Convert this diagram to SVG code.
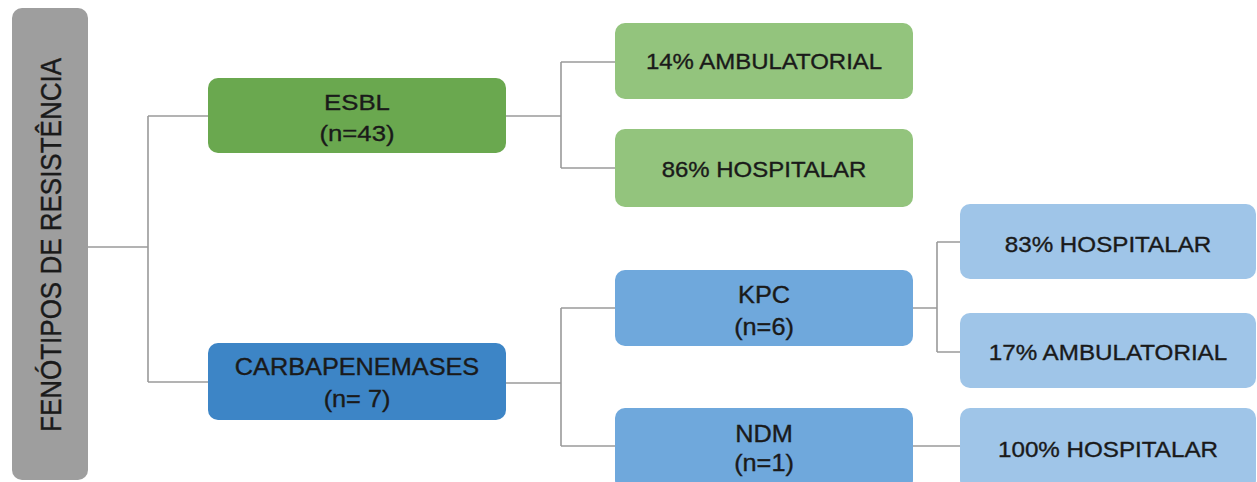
<svg xmlns="http://www.w3.org/2000/svg" width="1257" height="482" viewBox="0 0 1257 482">
<style>
.t{font-family:"Liberation Sans",Arial,sans-serif;fill:#1a1a1a;stroke:#1a1a1a;stroke-width:0.35;text-anchor:middle}
.s22{font-size:22px}
.s23{font-size:23px}
.c{fill:none;stroke:#9a9a9a;stroke-width:1.6}
.root{fill:#9e9e9e}
.g1{fill:#6aa84f}
.g2{fill:#93c47d}
.b1{fill:#3d85c6}
.b2{fill:#6fa8dc}
.b3{fill:#9fc5e8}
</style>
<rect width="1257" height="482" fill="#ffffff"/>
<g id="connectors">
<path class="c" d="M88 247H148M148 116V382M148 116H208M148 382H208"/>
<path class="c" d="M506 116H561M561 62V168M561 62H615M561 168H615"/>
<path class="c" d="M506 383H561M561 308V446M561 308H615M561 446H615"/>
<path class="c" d="M912 308H937M937 242V352M937 242H960M937 352H960"/>
<path class="c" d="M912 446H960"/>
</g>
<g id="root">
<rect class="root" x="12" y="8" width="76" height="472" rx="10"/>
<text class="t" font-size="26" transform="translate(61,245) scale(1.15,1) rotate(-90)">FENÓTIPOS DE RESISTÊNCIA</text>
</g>
<g id="esbl">
<rect class="g1" x="208" y="78" width="298" height="75" rx="10"/>
<text class="t s23" transform="translate(357,110) scale(1.12,1)">ESBL</text>
<text class="t s23" transform="translate(357,141) scale(1.12,1)">(n=43)</text>
</g>
<g id="esbl-amb">
<rect class="g2" x="615" y="23" width="298" height="76" rx="10"/>
<text class="t s22" transform="translate(764,69) scale(1.09,1)">14% AMBULATORIAL</text>
</g>
<g id="esbl-hosp">
<rect class="g2" x="615" y="129" width="298" height="78" rx="10"/>
<text class="t s22" transform="translate(764,177) scale(1.09,1)">86% HOSPITALAR</text>
</g>
<g id="carbapenemases">
<rect class="b1" x="208" y="343" width="298" height="77" rx="10"/>
<text class="t s23" transform="translate(357,375) scale(1.1,1)">CARBAPENEMASES</text>
<text class="t s23" transform="translate(357,407) scale(1.1,1)">(n= 7)</text>
</g>
<g id="kpc">
<rect class="b2" x="615" y="270" width="298" height="76" rx="10"/>
<text class="t s23" transform="translate(764,303) scale(1.1,1)">KPC</text>
<text class="t s23" transform="translate(764,335) scale(1.1,1)">(n=6)</text>
</g>
<g id="ndm">
<rect class="b2" x="615" y="408" width="298" height="82" rx="10"/>
<text class="t s23" transform="translate(764,442) scale(1.1,1)">NDM</text>
<text class="t s23" transform="translate(764,471) scale(1.1,1)">(n=1)</text>
</g>
<g id="kpc-hosp">
<rect class="b3" x="960" y="204" width="296" height="75" rx="10"/>
<text class="t s22" transform="translate(1108,252) scale(1.1,1)">83% HOSPITALAR</text>
</g>
<g id="kpc-amb">
<rect class="b3" x="960" y="313" width="296" height="75" rx="10"/>
<text class="t s22" transform="translate(1108,360) scale(1.1,1)">17% AMBULATORIAL</text>
</g>
<g id="ndm-hosp">
<rect class="b3" x="960" y="408" width="296" height="82" rx="10"/>
<text class="t s22" transform="translate(1108,457) scale(1.1,1)">100% HOSPITALAR</text>
</g>
</svg>
